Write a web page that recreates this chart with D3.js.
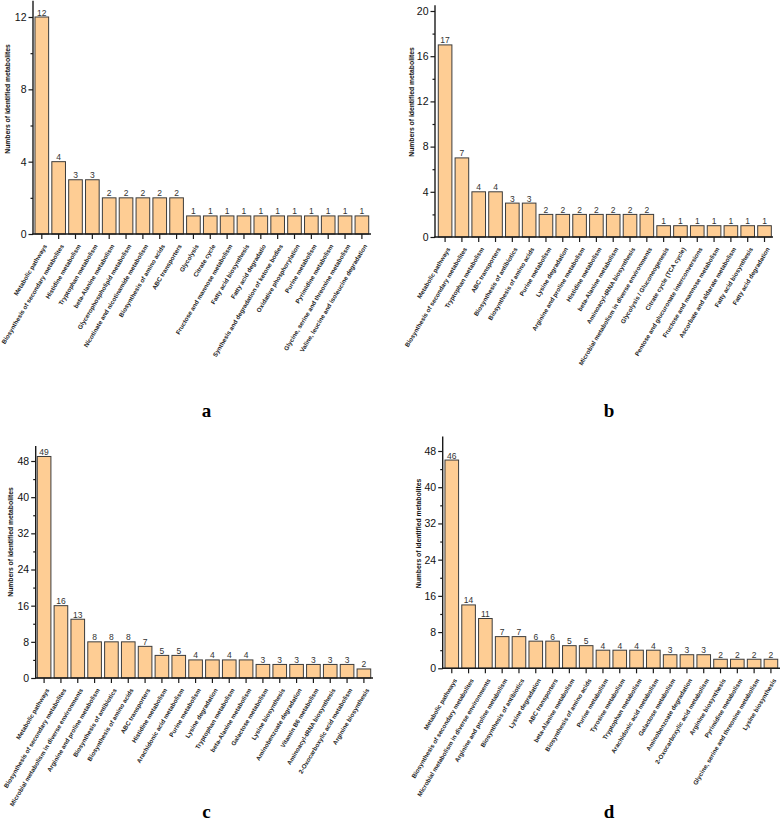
<!DOCTYPE html>
<html>
<head>
<meta charset="utf-8">
<script src="https://cdn.jsdelivr.net/npm/d3@7"></script>
<style>
  html, body { margin: 0; padding: 0; background: #fff; }
  svg { display: block; }
</style>
</head>
<body>
<svg id="chart" width="781" height="821"></svg>
<script>
// ---------- DATA ----------
const catsA = ["Metabolic pathways", "Biosynthesis of secondary metabolites", "Histidine metabolism", "Tryptophan metabolism", "beta-Alanine metabolism", "Glycerophospholipid metabolism", "Nicotinate and nicotinamide metabolism", "Biosynthesis of amino acids", "ABC transporters", "Glycolysis", "Citrate cycle", "Fructose and mannose metabolism", "Fatty acid biosynthesis", "Fatty acid degradatio", "Synthesis and degradation of ketone bodies", "Oxidative phosphorylation", "Purine metabolism", "Pyrimidine metabolism", "Glycine, serine and threonine metabolism", "Valine, leucine and isoleucine degradation"];
const valsA = [12, 4, 3, 3, 2, 2, 2, 2, 2, 1, 1, 1, 1, 1, 1, 1, 1, 1, 1, 1];
const ticksA = [0, 4, 8, 12];

const catsB = ["Metabolic pathways", "Biosynthesis of secondary metabolites", "Tryptophan metabolism", "ABC transporters", "Biosynthesis of antibiotics", "Biosynthesis of amino acids", "Purine metabolism", "Lysine degradation", "Arginine and proline metabolism", "Histidine metabolism", "beta-Alanine metabolism", "Aminoacyl-tRNA biosynthesis", "Microbial metabolism in diverse environments", "Glycolysis / Gluconeogenesis", "Citrate cycle (TCA cycle)", "Pentose and glucuronate interconversions", "Fructose and mannose metabolism", "Ascorbate and aldarate metabolism", "Fatty acid biosynthesis", "Fatty acid degradation"];
const valsB = [17, 7, 4, 4, 3, 3, 2, 2, 2, 2, 2, 2, 2, 1, 1, 1, 1, 1, 1, 1];
const ticksB = [0, 4, 8, 12, 16, 20];

const catsC = ["Metabolic pathways", "Biosynthesis of secondary metabolites", "Microbial metabolism in diverse environments", "Arginine and proline metabolism", "Biosynthesis of antibiotics", "Biosynthesis of amino acids", "ABC transporters", "Histidine metabolism", "Arachidonic acid metabolism", "Purine metabolism", "Lysine degradation", "Tryptophan metabolism", "beta-Alanine metabolism", "Galactose metabolism", "Lysine biosynthesis", "Aminobenzoate degradation", "Vitamin B6 metabolism", "Aminoacyl-tRNA biosynthesis", "2-Oxocarboxylic acid metabolism", "Arginine biosynthesis"];
const valsC = [49, 16, 13, 8, 8, 8, 7, 5, 5, 4, 4, 4, 4, 3, 3, 3, 3, 3, 3, 2];
const ticksC = [0, 8, 16, 24, 32, 40, 48];

const catsD = ["Metabolic pathways", "Biosynthesis of secondary metabolites", "Microbial metabolism in diverse environments", "Arginine and proline metabolism", "Biosynthesis of antibiotics", "Lysine degradation", "ABC transporters", "beta-Alanine metabolism", "Biosynthesis of amino acids", "Purine metabolism", "Tyrosine metabolism", "Tryptophan metabolism", "Arachidonic acid metabolism", "Galactose metabolism", "Aminobenzoate degradation", "2-Oxocarboxylic acid metabolism", "Arginine biosynthesis", "Pyrimidine metabolism", "Glycine, serine and threonine metabolism", "Lysine biosynthesis"];
const valsD = [46, 14, 11, 7, 7, 6, 6, 5, 5, 4, 4, 4, 4, 3, 3, 3, 2, 2, 2, 2];
const ticksD = [0, 8, 16, 24, 32, 40, 48];

const yTitle = "Numbers of identified metabolites";
const letters = ["a", "b", "c", "d"];

// ---------- LAYOUT ----------
const panels = [
  { cats: catsA, vals: valsA, ticks: ticksA, minorStep: 2, max: 12.9, letter: letters[0],
    axX: 33, bar0: 33.3, bar1: 370.4, axEnd: 371, y0: 234, yTopPx: 17, yTopVal: 12,
    titleX: 10, titleY: 99, letterX: 206.5, letterY: 417 },
  { cats: catsB, vals: valsB, ticks: ticksB, minorStep: 2, max: 20.5, letter: letters[1],
    axX: 435, bar0: 436.6, bar1: 773, axEnd: 773, y0: 237, yTopPx: 11, yTopVal: 20,
    titleX: 414, titleY: 102, letterX: 609, letterY: 417 },
  { cats: catsC, vals: valsC, ticks: ticksC, minorStep: 4, max: 51.3, letter: letters[2],
    axX: 35.7, bar0: 35.6, bar1: 372.4, axEnd: 373, y0: 678, yTopPx: 461, yTopVal: 48,
    titleX: 13, titleY: 542, letterX: 206.5, letterY: 818 },
  { cats: catsD, vals: valsD, ticks: ticksD, minorStep: 4, max: 51.2, letter: letters[3],
    axX: 442.7, bar0: 443.3, bar1: 779.4, axEnd: 780, y0: 668.3, yTopPx: 451, yTopVal: 48,
    titleX: 421, titleY: 533.5, letterX: 609, letterY: 818 }
];

const svg = d3.select("#chart");
svg.append("rect").attr("width", 781).attr("height", 821).attr("fill", "#fff");

const BAR_FILL = "#FECD94";
const BAR_STROKE = "#3c3c3c";
const AXIS = "#1a1a1a";

panels.forEach(p => {
  const g = svg.append("g");
  const pxPerUnit = (p.y0 - p.yTopPx) / p.yTopVal;
  const y = d3.scaleLinear().domain([0, p.max]).range([p.y0, p.y0 - p.max * pxPerUnit]);
  const x = d3.scaleBand().domain(p.cats).range([p.bar0, p.bar1])
    .paddingInner(0.19).paddingOuter(0.1);

  // bars
  g.selectAll("rect.bar").data(p.cats).join("rect")
    .attr("class", "bar")
    .attr("x", d => x(d))
    .attr("width", x.bandwidth())
    .attr("y", (d, i) => y(p.vals[i]))
    .attr("height", (d, i) => y(0) - y(p.vals[i]))
    .attr("fill", BAR_FILL)
    .attr("stroke", BAR_STROKE)
    .attr("stroke-width", 1);

  // value labels
  g.selectAll("text.val").data(p.cats).join("text")
    .attr("class", "val")
    .attr("x", d => x(d) + x.bandwidth() / 2)
    .attr("y", (d, i) => y(p.vals[i]) - 1.5)
    .attr("text-anchor", "middle")
    .attr("font-family", "Liberation Sans, Arial, sans-serif")
    .attr("font-size", 8.5)
    .attr("fill", "#333")
    .text((d, i) => p.vals[i]);

  // y axis
  const yAxis = d3.axisLeft(y).tickValues(p.ticks).tickSize(4.5).tickPadding(2)
    .tickFormat(d3.format("d"));
  const ya = g.append("g").attr("transform", `translate(${p.axX},0)`).call(yAxis);
  ya.select(".domain").remove();
  ya.selectAll("line").attr("stroke", AXIS).attr("stroke-width", 1.2);
  ya.selectAll("text").attr("font-family", "Liberation Sans, Arial, sans-serif")
    .attr("font-size", 10.5).attr("fill", "#111");
  // minor ticks
  const minors = d3.range(p.minorStep, p.max, p.minorStep).filter(v => !p.ticks.includes(v));
  const ym = d3.axisLeft(y).tickValues(minors).tickSize(2.5).tickFormat("");
  const ymg = g.append("g").attr("transform", `translate(${p.axX},0)`).call(ym);
  ymg.select(".domain").remove();
  ymg.selectAll("line").attr("stroke", AXIS).attr("stroke-width", 1.2);

  // axis lines
  g.append("line").attr("x1", p.axX).attr("x2", p.axX)
    .attr("y1", y(0) + 0.6).attr("y2", y(p.max))
    .attr("stroke", AXIS).attr("stroke-width", 1.4);

  // x axis
  const xAxis = d3.axisBottom(x).tickSize(5).tickFormat("");
  const xa = g.append("g").attr("transform", `translate(0,${p.y0})`).call(xAxis);
  xa.select(".domain").remove();
  xa.selectAll("line").attr("stroke", AXIS).attr("stroke-width", 1.2);
  g.append("line").attr("x1", p.axX - 0.7).attr("x2", p.axEnd)
    .attr("y1", p.y0).attr("y2", p.y0)
    .attr("stroke", AXIS).attr("stroke-width", 1.4);

  // x labels (rotated)
  g.selectAll("text.xl").data(p.cats).join("text")
    .attr("class", "xl")
    .attr("transform", d => `translate(${x(d) + x.bandwidth() / 2 + 5.5},${p.y0 + 12}) rotate(-59)`)
    .attr("text-anchor", "end")
    .attr("font-family", "Liberation Sans, Arial, sans-serif")
    .attr("font-weight", "bold")
    .attr("font-size", 6.2)
    .attr("fill", "#222")
    .text(d => d);

  // y title
  g.append("text")
    .attr("transform", `translate(${p.titleX},${p.titleY}) rotate(-90)`)
    .attr("text-anchor", "middle")
    .attr("font-family", "Liberation Sans, Arial, sans-serif")
    .attr("font-weight", "bold")
    .attr("font-size", 6.8)
    .attr("fill", "#111")
    .text(yTitle);

  // panel letter
  g.append("text")
    .attr("x", p.letterX).attr("y", p.letterY)
    .attr("text-anchor", "middle")
    .attr("font-family", "Liberation Serif, Times New Roman, serif")
    .attr("font-weight", "bold")
    .attr("font-size", 19)
    .attr("fill", "#000")
    .text(p.letter);
});
</script>
</body>
</html>
